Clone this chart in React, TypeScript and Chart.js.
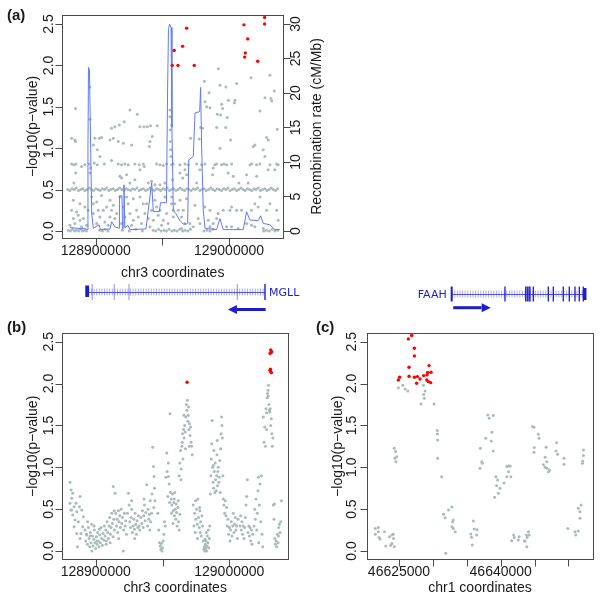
import React, { useEffect, useRef } from "react";
import { Chart, registerables } from "chart.js";

Chart.register(...registerables);

// ======================= DATA =======================
// axis limits (bp / -log10 p / cM per Mb)
const chr3RangeA = [128874725, 129040725];
const chr3RangeB = [128874775, 129044160];
const chr1RangeC = [46620236, 46653658];
const pRangeA = [-0.0845, 2.6087];
const pRangeBC = [-0.099, 2.6];
const recRange = [-1.014, 31.3];

// ticks
const chr3Ticks = [128900000, 128950000, 129000000];
const chr3TickLabels = [128900000, 129000000];
const chr1Ticks = [46625000, 46630000, 46635000, 46640000, 46645000, 46650000];
const chr1TickLabels = [46625000, 46640000];
const pTicks = [0, 0.5, 1, 1.5, 2, 2.5];
const recTicks = [0, 5, 10, 15, 20, 25, 30];

// ---- panel (a): positions in kb ----
const aRed = [
  [128957.4, 2.0], [128961.7, 2.0], [128958.9, 2.18], [128965.2, 2.23], [128968.2, 2.45], [128973.9, 2.0],
  [129011.2, 2.49], [129014.0, 2.32], [129012.2, 2.15], [129011.7, 2.1], [129021.5, 2.05], [129026.7, 2.58], [129026.7, 2.5],
];

const aRecombination = [
  [128880.7, 0.5], [128885.7, 0.4], [128892.7, 0.3], [128894.0, 0.2], [128894.2, 12.0], [128894.6, 23.7], [128895.3, 23.4],
  [128897.0, 2.6], [128898.2, 0.4], [128902.5, 0.9], [128903.6, 0.2], [128910.7, 0.3], [128912.0, 1.35], [128914.5, 0.6],
  [128917.5, 0.4], [128917.8, 5.1], [128919.7, 5.1], [128920.2, 0.3], [128920.8, 0.4], [128921.2, 6.7], [128921.9, 0.5],
  [128924.2, 0.8], [128925.7, 0.2], [128937.7, 0.3], [128942.0, 7.0], [128943.2, 2.8], [128947.8, 2.8], [128948.6, 4.1],
  [128953.1, 4.1], [128953.9, 20.0], [128954.6, 29.2], [128955.4, 30.0], [128956.5, 29.5], [128957.2, 15.0], [128958.2, 3.0],
  [128960.2, 2.5], [128963.2, 1.5], [128965.7, 1.0], [128968.2, 1.0], [128969.0, 1.2], [128969.8, 10.3], [128973.2, 10.8],
  [128974.5, 17.1], [128978.0, 17.3], [128978.7, 20.8], [128979.5, 12.0], [128980.7, 3.0], [128982.0, 0.4], [128990.7, 0.2],
  [128993.2, 1.8], [128995.7, 0.2], [129010.7, 0.2], [129013.2, 2.8], [129015.7, 1.6], [129021.9, 1.5], [129023.7, 2.2],
  [129025.7, 1.1], [129030.7, 0.9], [129034.5, 0.2], [129038.2, 0.2],
];

const aGreyHigh = [
  [128884.9, 1.48], [128881.9, 1.12], [128884.4, 1.1], [128884.9, 1.08], [128895.7, 1.74], [128895.7, 1.35], [128899.4, 1.12],
  [128902.7, 1.12], [128904.4, 1.13], [128898.2, 1.04], [128901.2, 0.98], [128903.2, 0.9], [128911.9, 1.24], [128914.4, 1.26],
  [128910.7, 1.1], [128913.2, 1.12], [128917.7, 1.28], [128921.4, 1.32], [128925.7, 1.46], [128931.2, 1.41], [128916.9, 1.08],
  [128920.7, 1.06], [128926.9, 1.04], [128933.2, 1.26], [128936.2, 1.26], [128938.7, 1.26], [128941.2, 1.27], [128946.2, 1.27],
  [128942.4, 1.14], [128940.7, 1.08], [128940.2, 1.02], [128955.7, 1.46], [128955.7, 1.38], [128956.9, 1.28], [128956.2, 0.98],
  [128956.4, 0.9], [128955.9, 1.22], [128956.1, 1.08], [128992.0, 1.96], [128981.5, 1.81], [129005.7, 1.78], [129016.5, 1.85],
  [129030.7, 1.88], [128993.2, 1.76], [128997.7, 1.74], [128985.0, 1.67], [129034.0, 1.69], [128999.5, 1.58], [129004.5, 1.58],
  [129004.0, 1.55], [129027.0, 1.61], [129031.5, 1.6], [129032.0, 1.57], [128982.0, 1.56], [128983.2, 1.5], [128985.7, 1.49],
  [128994.5, 1.53], [128995.2, 1.48], [128991.2, 1.41], [128993.7, 1.4], [128998.7, 1.37], [129023.2, 1.45], [128978.7, 1.25],
  [128980.2, 1.24], [128990.7, 1.25], [128997.5, 1.25], [129036.2, 1.23], [128971.2, 1.12], [128977.7, 1.11], [129001.2, 1.1],
  [128993.2, 1.0], [129018.2, 1.02], [129019.5, 1.04], [129028.2, 1.13], [129029.5, 1.1], [129025.7, 0.98], [129026.9, 0.9],
];

const aGreyBand08 = [
  [128881.9, 0.81], [128883.7, 0.8], [128885.2, 0.81], [128889.4, 0.78], [128891.9, 0.8], [128895.2, 0.81], [128898.9, 0.82],
  [128901.2, 0.8], [128906.4, 0.81], [128911.9, 0.85], [128916.9, 0.81], [128919.4, 0.8], [128921.9, 0.81], [128924.4, 0.8],
  [128929.4, 0.81], [128932.7, 0.8], [128935.7, 0.81], [128945.7, 0.81], [128948.2, 0.8], [128950.7, 0.79], [128953.2, 0.81],
  [128957.0, 0.8], [128958.2, 0.81], [128963.2, 0.8], [128967.0, 0.81], [128969.4, 0.8], [128975.7, 0.81], [128979.4, 0.8],
  [128982.0, 0.81], [128989.4, 0.8], [128990.7, 0.81], [128994.4, 0.8], [128996.2, 0.81], [128998.2, 0.8], [129002.0, 0.81],
  [129015.7, 0.8], [129017.0, 0.81], [129020.7, 0.8], [129023.2, 0.81], [129030.7, 0.8], [129035.7, 0.81],
];

const aGreyMid = [
  [128884.9, 0.7], [128883.7, 0.58], [128896.2, 0.76], [128895.7, 0.7], [128918.2, 0.66], [128919.4, 0.64], [128923.2, 0.68],
  [128925.7, 0.58], [128929.4, 0.62], [128933.2, 0.74], [128936.4, 0.78], [128939.4, 0.58], [128941.9, 0.6], [128944.4, 0.56],
  [128948.2, 0.56], [128951.9, 0.58], [128966.9, 0.74], [128978.2, 0.74], [128988.2, 0.76], [128963.2, 0.7], [128968.2, 0.68],
  [128965.2, 0.64], [128957.7, 0.62], [128987.7, 0.68], [128999.4, 0.7], [129003.2, 0.66], [129007.4, 0.58], [129014.4, 0.58],
  [129020.7, 0.66], [129029.4, 0.74], [129034.4, 0.74], [129036.9, 0.8], [128975.7, 0.58], [129013.2, 0.68],
];

const aGreyBand05 = [
  [128879.0, 0.5], [128880.6, 0.49], [128882.3, 0.51], [128883.9, 0.5], [128885.4, 0.52], [128887.1, 0.49], [128888.8, 0.5],
  [128890.2, 0.51], [128891.9, 0.49], [128893.5, 0.5], [128895.2, 0.52], [128896.8, 0.5], [128898.4, 0.49], [128900.1, 0.51],
  [128901.7, 0.5], [128903.2, 0.49], [128904.9, 0.51], [128906.6, 0.5], [128908.1, 0.52], [128909.8, 0.49], [128911.4, 0.5],
  [128913.0, 0.51], [128914.7, 0.49], [128916.3, 0.5], [128917.9, 0.52], [128919.6, 0.5], [128921.2, 0.49], [128922.8, 0.51],
  [128924.4, 0.5], [128926.1, 0.49], [128927.6, 0.51], [128929.3, 0.5], [128930.9, 0.52], [128932.6, 0.49], [128934.1, 0.5],
  [128935.8, 0.51], [128937.4, 0.49], [128939.0, 0.5], [128940.7, 0.52], [128942.3, 0.5], [128943.9, 0.49], [128945.5, 0.51],
  [128947.2, 0.5], [128948.8, 0.49], [128950.4, 0.51], [128952.0, 0.5], [128953.7, 0.52], [128955.3, 0.49], [128956.9, 0.5],
  [128958.5, 0.51], [128960.2, 0.49], [128961.8, 0.5], [128963.4, 0.52], [128965.0, 0.5], [128966.7, 0.49], [128968.3, 0.51],
  [128969.9, 0.5], [128971.6, 0.49], [128973.2, 0.51], [128974.8, 0.5], [128976.4, 0.52], [128978.1, 0.49], [128979.7, 0.5],
  [128981.3, 0.51], [128982.9, 0.49], [128984.6, 0.5], [128986.2, 0.52], [128987.8, 0.5], [128989.4, 0.49], [128991.1, 0.51],
  [128992.7, 0.5], [128994.3, 0.49], [128995.9, 0.51], [128997.6, 0.5], [128999.2, 0.52], [129000.8, 0.49], [129002.4, 0.5],
  [129004.1, 0.51], [129005.7, 0.49], [129007.3, 0.5], [129008.9, 0.52], [129010.6, 0.5], [129012.2, 0.49], [129013.8, 0.51],
  [129015.4, 0.5], [129017.1, 0.49], [129018.7, 0.51], [129020.3, 0.5], [129021.9, 0.52], [129023.6, 0.49], [129025.2, 0.5],
  [129026.8, 0.51], [129028.4, 0.49], [129030.1, 0.5], [129031.7, 0.52], [129033.3, 0.5], [129034.9, 0.49], [129036.5, 0.51],
];

const aGreyLow = [
  [128881.9, 0.25], [128885.7, 0.23], [128886.9, 0.19], [128883.2, 0.15], [128888.2, 0.13], [128890.7, 0.15], [128884.4, 0.09],
  [128889.4, 0.05], [128893.2, 0.07], [128880.7, 0.07], [128896.9, 0.41], [128898.2, 0.33], [128900.7, 0.35], [128901.9, 0.25],
  [128898.2, 0.21], [128903.2, 0.17], [128905.7, 0.25], [128906.9, 0.11], [128909.4, 0.07], [128910.7, 0.37], [128913.2, 0.31],
  [128911.9, 0.25], [128915.7, 0.21], [128918.2, 0.41], [128920.7, 0.29], [128921.9, 0.17], [128924.4, 0.33], [128925.7, 0.21],
  [128928.2, 0.39], [128928.2, 0.13], [128930.7, 0.25], [128933.2, 0.41], [128935.7, 0.33], [128936.9, 0.21], [128939.4, 0.15],
  [128941.9, 0.25], [128944.4, 0.37], [128945.7, 0.29], [128948.2, 0.25], [128950.7, 0.13], [128953.2, 0.21], [128956.9, 0.33],
  [128958.2, 0.25], [128883.2, 0.37], [128891.9, 0.29], [128894.4, 0.25], [128904.4, 0.43], [128908.2, 0.29], [128914.4, 0.15],
  [128919.4, 0.09], [128923.2, 0.41], [128926.9, 0.07], [128931.9, 0.17], [128934.4, 0.09], [128938.2, 0.33], [128940.7, 0.05],
  [128943.2, 0.13], [128946.9, 0.19], [128949.4, 0.07], [128951.9, 0.41], [128954.4, 0.09], [128888.2, 0.33], [128900.7, 0.09],
  [128910.7, 0.17], [128956.9, 0.41], [128963.2, 0.37], [128968.2, 0.39], [128961.9, 0.25], [128959.4, 0.33], [128981.9, 0.29],
  [128985.7, 0.25], [128991.9, 0.21], [128995.7, 0.25], [129000.7, 0.25], [129001.9, 0.29], [129005.7, 0.25], [129009.4, 0.25],
  [129021.9, 0.29], [129023.2, 0.41], [129030.7, 0.33], [129035.7, 0.25], [129036.9, 0.13], [128958.2, 0.17], [128964.4, 0.17],
  [128966.9, 0.09], [128964.4, 0.03], [128970.7, 0.09], [128973.2, 0.05], [128976.9, 0.15], [128978.2, 0.09], [128984.4, 0.13],
  [128985.7, 0.05], [128988.2, 0.09], [128990.7, 0.15], [128998.2, 0.05], [129001.9, 0.05], [129006.9, 0.03], [129013.2, 0.09],
  [129016.9, 0.07], [129019.4, 0.05], [129025.7, 0.03], [129016.9, 0.25], [129019.4, 0.33], [129028.2, 0.25], [128965.7, 0.25],
  [128974.4, 0.31],
];

const aGreyZero = [
  [128879.5, 0.01], [128881.0, 0.0], [128882.6, 0.02], [128884.1, 0.0], [128885.6, 0.01], [128887.2, 0.0], [128888.7, 0.02],
  [128890.1, 0.0], [128891.6, 0.01], [128893.0, 0.0], [128903.0, 0.01], [128905.1, 0.0], [128907.0, 0.02], [128909.2, 0.0],
  [128920.0, 0.01], [128925.2, 0.0], [128930.1, 0.02], [128935.0, 0.0], [128943.1, 0.01], [128945.0, 0.0], [128947.1, 0.02],
  [128949.0, 0.0], [128951.2, 0.01], [128953.1, 0.0], [128955.0, 0.02], [128957.2, 0.0], [128959.0, 0.01], [128961.1, 0.0],
  [128963.0, 0.02], [128965.2, 0.0], [128967.0, 0.01], [128969.1, 0.0], [128971.0, 0.02], [128981.2, 0.0], [128983.5, 0.01],
  [128985.8, 0.0], [128987.9, 0.02], [129026.0, 0.0], [129028.1, 0.01], [129030.2, 0.0], [129032.3, 0.02], [129034.4, 0.0],
  [129036.5, 0.01],
];

// ---- panel (b): positions in kb ----
const bRed = [
  [128968.4, 2.015], [129031.0, 2.4], [129031.7, 2.38], [129030.5, 2.36], [129031.2, 2.37],
  [129030.5, 2.16], [129031.0, 2.14], [129031.5, 2.13], [129030.8, 2.17],
];

const bGreyLeft = [
  [128880.8, 0.82], [128881.5, 0.73], [128882.8, 0.69], [128882.0, 0.63], [128880.8, 0.57], [128883.8, 0.53], [128881.3, 0.49],
  [128885.8, 0.47], [128882.8, 0.43], [128888.3, 0.65], [128889.5, 0.49], [128887.0, 0.35], [128883.8, 0.29], [128885.8, 0.21],
  [128888.3, 0.15], [128890.3, 0.29], [128890.8, 0.41], [128892.0, 0.25], [128893.3, 0.19], [128886.3, 0.05], [128885.3, 0.57],
  [128887.8, 0.53], [128884.5, 0.37], [128889.0, 0.21], [128882.0, 0.49],
  [128892.5, 0.12], [128893.0, 0.2], [128893.8, 0.08], [128894.5, 0.28], [128895.0, 0.15], [128895.5, 0.05], [128896.0, 0.22],
  [128896.5, 0.1], [128897.0, 0.32], [128897.5, 0.18], [128898.0, 0.06], [128898.5, 0.14], [128899.0, 0.25], [128899.5, 0.1],
  [128900.0, 0.03], [128900.5, 0.17], [128901.0, 0.08], [128901.5, 0.22], [128902.0, 0.12], [128902.5, 0.05], [128903.0, 0.19],
  [128903.5, 0.1], [128904.0, 0.28], [128904.5, 0.15], [128905.0, 0.07], [128905.5, 0.21], [128906.0, 0.13], [128894.0, 0.35],
  [128898.8, 0.3], [128902.8, 0.26], [128897.2, 0.0], [128900.8, 0.12], [128895.8, 0.18],
  [128906.5, 0.3], [128907.0, 0.18], [128907.5, 0.25], [128908.0, 0.12], [128908.5, 0.35], [128909.0, 0.22], [128909.5, 0.15],
  [128910.0, 0.3], [128910.5, 0.4], [128911.0, 0.2], [128911.5, 0.28], [128912.0, 0.45], [128912.5, 0.33], [128913.0, 0.17],
  [128913.5, 0.38], [128914.0, 0.25], [128907.8, 0.08], [128910.8, 0.1], [128913.8, 0.48],
  [128913.2, 0.77], [128914.5, 0.69], [128915.0, 0.45], [128915.5, 0.3], [128916.0, 0.38], [128916.5, 0.22], [128917.0, 0.48],
  [128917.5, 0.35], [128918.0, 0.42], [128918.5, 0.28], [128919.0, 0.5], [128919.5, 0.33], [128920.0, 0.4], [128920.7, 0.0],
  [128921.0, 0.25], [128921.5, 0.45], [128922.0, 0.3], [128922.5, 0.36], [128923.0, 0.2], [128917.2, 0.15],
  [128923.8, 0.45], [128924.5, 0.69], [128925.0, 0.55], [128925.5, 0.35], [128926.0, 0.28], [128926.5, 0.4], [128927.0, 0.5],
  [128927.5, 0.22], [128928.0, 0.3], [128928.5, 0.38], [128929.0, 0.26], [128929.5, 0.45], [128930.0, 0.32], [128930.5, 0.2],
  [128931.0, 0.36], [128931.5, 0.28], [128932.0, 0.42], [128932.5, 0.3], [128933.0, 0.25], [128926.8, 0.6], [128929.2, 0.15],
  [128933.8, 0.4], [128934.5, 0.33], [128935.0, 0.48], [128935.5, 0.28], [128936.0, 0.42], [128936.5, 0.55], [128937.0, 0.36],
  [128937.5, 0.46], [128938.2, 0.79], [128938.8, 0.3], [128939.2, 0.5], [128939.8, 0.38], [128940.2, 0.44], [128940.8, 0.6],
  [128941.2, 0.35], [128941.8, 0.45], [128942.2, 0.68], [128942.7, 1.24], [128943.2, 1.01], [128943.7, 0.89], [128944.0, 0.75],
  [128944.3, 0.6], [128936.2, 0.62], [128940.5, 0.25], [128943.5, 0.52],
];

const bGreyMiddle = [
  [128947.2, 0.25], [128947.8, 0.1], [128948.3, 0.06], [128948.8, 0.02], [128949.2, 0.09], [128949.6, 0.0], [128950.0, 0.04],
  [128950.5, 0.12], [128951.0, 0.2], [128951.5, 0.35], [128946.5, 0.45], [128952.0, 0.3],
  [128952.5, 0.88], [128953.2, 1.17], [128953.5, 0.95], [128954.4, 1.05], [128954.4, 0.89], [128955.0, 0.8], [128955.6, 1.64],
  [128956.0, 0.7], [128956.5, 0.62], [128957.0, 0.55], [128957.5, 0.68], [128958.0, 0.48], [128958.5, 0.58], [128959.0, 0.42],
  [128959.5, 0.5], [128960.0, 0.38], [128960.5, 0.46], [128961.0, 0.3], [128961.5, 0.52], [128962.0, 0.35], [128962.5, 0.25],
  [128963.0, 0.44], [128956.8, 0.45], [128958.8, 0.62], [128955.3, 0.58], [128960.2, 0.56], [128957.8, 0.33], [128961.8, 0.6],
  [128959.2, 0.7], [128954.0, 0.65],
  [128962.5, 0.9], [128963.0, 1.05], [128963.5, 1.2], [128964.0, 0.98], [128964.5, 1.25], [128965.0, 1.4], [128965.3, 1.1],
  [128965.8, 1.45], [128966.2, 1.35], [128966.6, 1.5], [128967.0, 1.42], [128967.4, 1.6], [128967.8, 1.75], [128968.2, 1.68],
  [128968.6, 1.8], [128969.0, 1.55], [128969.4, 1.72], [128969.8, 1.45], [128970.2, 1.52], [128970.6, 1.38], [128971.0, 1.48],
  [128971.4, 1.3], [128971.8, 1.25], [128972.2, 1.15], [128964.8, 1.3], [128967.2, 1.22], [128969.2, 1.62], [128966.0, 1.62],
  [128970.0, 1.25], [128963.8, 0.85],
  [128973.0, 0.55], [128973.5, 0.3], [128974.0, 0.45], [128974.5, 0.22], [128975.0, 0.38], [128975.5, 0.5], [128976.0, 0.32],
  [128976.5, 0.62], [128977.0, 0.4], [128977.5, 0.28], [128978.0, 0.48], [128978.5, 0.35], [128979.0, 0.18], [128979.5, 0.42],
  [128980.0, 0.3], [128980.5, 0.12], [128976.2, 0.15], [128978.2, 0.22], [128974.8, 0.6], [128977.8, 0.52],
  [128981.0, 0.02], [128981.3, 0.05], [128981.6, 0.0], [128982.0, 0.08], [128982.3, 0.03], [128982.6, 0.12], [128983.0, 0.0],
  [128983.3, 0.06], [128983.6, 0.18], [128984.0, 0.1], [128984.3, 0.25], [128984.6, 0.04], [128985.0, 0.15], [128985.3, 0.3],
  [128982.8, 0.22], [128981.8, 0.14],
];

const bGreyRight = [
  [128985.8, 0.68], [128986.2, 0.9], [128986.5, 1.1], [128986.8, 1.28], [128987.2, 1.56], [128987.5, 1.0], [128987.8, 0.82],
  [128988.2, 0.75], [128988.5, 1.2], [128988.8, 0.95], [128989.2, 0.7], [128989.5, 1.05], [128989.8, 0.85], [128990.2, 0.72],
  [128990.5, 0.9], [128990.8, 1.15], [128991.2, 0.78], [128991.5, 0.95], [128991.8, 1.0], [128992.2, 0.82], [128992.5, 0.88],
  [128992.8, 1.08], [128993.2, 0.7], [128993.5, 1.22], [128993.8, 1.4], [128994.2, 1.6], [128994.5, 1.5], [128994.8, 1.35],
  [128995.2, 0.9], [128995.5, 0.62], [128996.0, 0.55], [128996.5, 0.45], [128988.0, 1.02], [128991.0, 1.32],
  [128997.0, 0.6], [128997.5, 0.42], [128998.0, 0.52], [128998.5, 0.3], [128999.0, 0.38], [128999.5, 0.2], [129000.0, 0.28],
  [129000.5, 0.12], [129001.0, 0.25], [129001.5, 0.35], [129002.0, 0.18], [129002.5, 0.3], [129003.0, 0.45], [129003.5, 0.22],
  [129004.0, 0.32], [129004.5, 0.4], [129005.0, 0.25], [129005.5, 0.3], [129006.0, 0.15], [129006.5, 0.38],
  [129008.0, 0.3], [129008.5, 0.42], [129009.0, 0.25], [129009.5, 0.35], [129010.0, 0.2], [129010.5, 0.3], [129011.0, 0.15],
  [129011.5, 0.28], [129012.0, 0.4], [129012.5, 0.55], [129013.5, 0.85], [129014.0, 0.22], [129014.5, 0.3], [129015.0, 0.18],
  [129015.5, 0.28], [129016.0, 0.12], [129016.5, 0.25], [129017.0, 0.08], [129017.5, 0.2], [129013.0, 0.65],
  [129018.5, 0.3], [129019.0, 0.5], [129019.5, 0.38], [129020.0, 0.62], [129020.5, 0.25], [129021.0, 0.45], [129021.5, 0.72],
  [129022.0, 0.1], [129022.5, 0.55], [129023.0, 0.8], [129023.5, 0.35], [129024.0, 0.9], [129024.5, 0.2], [129025.0, 0.05],
  [129021.8, 0.88],
  [129025.5, 1.6], [129026.0, 1.3], [129026.5, 1.48], [129027.0, 1.25], [129027.5, 1.7], [129028.0, 1.65], [129028.3, 1.83],
  [129028.6, 1.88], [129029.0, 1.92], [129029.3, 1.98], [129029.6, 1.75], [129030.0, 1.68], [129030.3, 1.66], [129030.6, 1.7],
  [129031.0, 1.5], [129031.4, 1.58], [129031.8, 1.4], [129032.2, 1.25], [129032.6, 1.35], [129029.2, 1.85], [129028.0, 1.45],
  [129033.0, 0.55], [129033.5, 0.38], [129034.0, 0.15], [129034.5, 0.08], [129035.0, 0.12], [129035.5, 0.05], [129036.0, 0.2],
  [129036.5, 0.1], [129037.0, 0.28], [129037.5, 0.32], [129038.0, 0.22], [129038.5, 0.35], [129039.0, 0.6], [129036.8, 0.18],
  [129033.8, 0.56],
];

// ---- panel (c): positions in kb (chr1) ----
const cRed = [
  [46626.38, 2.533], [46626.87, 2.573], [46627.27, 2.421], [46627.27, 2.33], [46626.48, 2.194], [46629.43, 2.214],
  [46624.9, 2.043], [46625.1, 2.075], [46626.48, 2.087], [46627.27, 2.075], [46627.71, 2.083], [46628.1, 2.055],
  [46627.6, 2.003], [46628.64, 2.095], [46629.13, 2.103], [46629.23, 2.131], [46629.72, 2.135], [46629.1, 2.043],
  [46629.33, 2.023], [46629.67, 2.011],
];

const cGrey = [
  [46624.9, 1.95], [46625.55, 1.98], [46625.9, 1.935], [46626.3, 1.91], [46628.6, 1.98], [46628.84, 1.91], [46628.64, 1.87],
  [46628.25, 1.756], [46628.74, 1.824], [46630.17, 1.756],
  [46624.3, 1.227], [46624.5, 1.187], [46624.65, 1.127], [46624.4, 1.107], [46624.55, 1.067],
  [46630.66, 1.438], [46630.66, 1.398], [46630.7, 1.326], [46630.7, 1.107], [46631.3, 0.888],
  [46631.55, 0.438], [46631.8, 0.398], [46632.3, 0.49], [46632.8, 0.526], [46633.0, 0.37], [46632.8, 0.29], [46633.0, 0.27],
  [46633.3, 0.23], [46632.9, 0.35], [46631.9, -0.028],
  [46635.97, 0.358], [46636.1, 0.263], [46636.5, 0.255], [46635.6, 0.203], [46636.45, 0.19], [46635.7, 0.163], [46635.8, 0.072],
  [46637.0, 1.227], [46637.2, 1.067], [46637.3, 1.047], [46636.95, 0.988], [46637.8, 1.346], [46638.1, 1.625], [46638.3, 1.585],
  [46638.9, 1.617], [46638.7, 1.418], [46638.6, 1.314], [46638.9, 1.195],
  [46639.3, 0.888], [46639.55, 0.848], [46639.9, 0.749], [46639.4, 0.78], [46639.65, 0.689], [46639.1, 0.641], [46640.5, 0.812],
  [46640.9, 1.008], [46641.15, 1.016], [46641.4, 1.016], [46641.15, 0.948], [46641.5, 0.888], [46640.9, 0.888],
  [46641.6, 0.123], [46642.0, 0.16], [46641.9, 0.19], [46642.7, 0.17], [46642.6, 0.13],
  [46643.5, 0.12], [46643.9, 0.16], [46643.8, 0.19], [46644.2, 0.19], [46644.1, 0.23], [46643.85, 0.05], [46643.6, 0.12],
  [46644.7, 1.486], [46644.9, 1.478], [46645.55, 1.394], [46645.65, 1.346], [46644.95, 1.235], [46644.9, 1.18],
  [46646.3, 1.03], [46646.55, 1.0], [46646.8, 0.988], [46647.05, 0.948], [46647.2, 0.968], [46646.8, 1.067], [46646.55, 1.12],
  [46646.7, 1.239], [46648.26, 1.294], [46648.16, 1.195], [46648.4, 1.155], [46649.34, 1.107], [46649.34, 1.036],
  [46649.9, 0.27], [46650.96, 0.23], [46651.06, 0.19], [46651.45, 0.24], [46651.45, 0.51], [46651.7, 0.47], [46651.85, 0.55],
  [46651.7, 0.39], [46652.2, 1.207], [46652.2, 1.14], [46652.1, 1.075], [46652.05, 1.048],
  [46621.5, 0.27], [46621.95, 0.28], [46621.95, 0.23], [46622.05, 0.16], [46621.5, 0.2], [46622.2, 0.143], [46622.85, 0.23],
  [46623.05, 0.06], [46623.6, 0.17], [46623.95, 0.19], [46624.15, 0.2], [46624.2, 0.15], [46623.95, 0.09], [46624.3, 0.05],
  [46623.8, 0.07],
];

// ---- gene tracks (kb) ----
const mgllSpan = [128892.6, 129027.0];
const mgllUtrBlock = [128892.2, 128895.0];
const mgllExons = [128897.4, 128913.9, 128925.0, 129006.2];
const mgllLastExon = 129027.0;
const mgllArrow = [129027.5, 128999.2]; // tail -> head
const faahSpan = [46632.77, 46652.43];
const faahExons = [
  46632.77, 46640.63, 46643.69, 46643.92, 46644.17, 46644.32, 46644.81, 46647.02, 46647.76, 46649.23,
  46650.12, 46650.96, 46651.59, 46652.18,
];
const faahEndBlock = [46652.18, 46652.5];
const faahArrow = [46633.0, 46638.52]; // tail -> head

// ======================= STYLE =======================
const FONT = "'Liberation Sans', Arial, Helvetica, sans-serif";
const GENE_FONT = "'DejaVu Sans', Verdana, sans-serif";
const GREY = "#aabbb9";
const RED = "#ff0000";
const REC = "rgb(98,122,250)";
const AXIS = "#4a4a4a";
const TEXT = "#1a1a1a";
const GENE = "#1c1ccc";
const GENE_LIGHT = "rgba(105,105,235,0.55)";
const TICK = 7;

const toXY = (rows: number[][]) => rows.map(([kb, y]) => ({ x: kb * 1000, y }));

const pts = (data: any[], color: string, r: number) => ({
  data,
  backgroundColor: color,
  borderWidth: 0,
  pointRadius: r,
  pointHoverRadius: r,
});

function rot(ctx: CanvasRenderingContext2D, text: string, x: number, y: number, baseline: CanvasTextBaseline) {
  ctx.save();
  ctx.translate(x, y);
  ctx.rotate(-Math.PI / 2);
  ctx.textAlign = "center";
  ctx.textBaseline = baseline;
  ctx.fillText(text, 0, 0);
  ctx.restore();
}

function drawRAxes(chart: any, s: any) {
  const { ctx, chartArea: a } = chart;
  const xs = chart.scales.x;
  const ys = chart.scales.y;
  ctx.save();
  ctx.strokeStyle = AXIS;
  ctx.lineWidth = 1;
  const L = Math.round(a.left) + 0.5;
  const R = Math.round(a.right) + 0.5;
  const T = Math.round(a.top) + 0.5;
  const B = Math.round(a.bottom) + 0.5;
  ctx.strokeRect(L, T, R - L, B - T);
  ctx.beginPath();
  s.xTicks.forEach((v: number) => {
    const p = Math.round(xs.getPixelForValue(v)) + 0.5;
    ctx.moveTo(p, B);
    ctx.lineTo(p, B + TICK);
  });
  s.yTicks.forEach((v: number) => {
    const p = Math.round(ys.getPixelForValue(v)) + 0.5;
    ctx.moveTo(L, p);
    ctx.lineTo(L - TICK, p);
  });
  if (s.right) {
    const y2 = chart.scales.y2;
    s.right.ticks.forEach((v: number) => {
      const p = Math.round(y2.getPixelForValue(v)) + 0.5;
      ctx.moveTo(R, p);
      ctx.lineTo(R + TICK, p);
    });
  }
  ctx.stroke();

  ctx.fillStyle = TEXT;
  ctx.font = `14px ${FONT}`;
  ctx.textAlign = "center";
  ctx.textBaseline = "alphabetic";
  s.xLabels.forEach((v: number) => ctx.fillText(String(v), xs.getPixelForValue(v), a.bottom + s.xLabelGap));
  ctx.fillText(s.xTitle, (a.left + a.right) / 2, a.bottom + s.xTitleGap);
  s.yTicks.forEach((v: number) => rot(ctx, v.toFixed(1), a.left - s.yLabelGap, ys.getPixelForValue(v), "alphabetic"));
  rot(ctx, s.yTitle, a.left - s.yTitleGap, (a.top + a.bottom) / 2, "middle");
  if (s.right) {
    const y2 = chart.scales.y2;
    s.right.ticks.forEach((v: number) => rot(ctx, String(v), a.right + s.right.labelGap, y2.getPixelForValue(v), "alphabetic"));
    rot(ctx, s.right.title, a.right + s.right.titleGap, (a.top + a.bottom) / 2, "middle");
  }
  ctx.font = `bold 15px ${FONT}`;
  ctx.textAlign = "left";
  ctx.fillText(s.tag, s.tagX, s.tagY);
  ctx.restore();
}

function arrow(ctx: CanvasRenderingContext2D, x0: number, x1: number, y: number) {
  const dir = Math.sign(x1 - x0);
  const head = 9;
  ctx.save();
  ctx.strokeStyle = GENE;
  ctx.fillStyle = GENE;
  ctx.lineWidth = 3;
  ctx.beginPath();
  ctx.moveTo(x0, y);
  ctx.lineTo(x1 - dir * head, y);
  ctx.stroke();
  ctx.beginPath();
  ctx.moveTo(x1, y);
  ctx.lineTo(x1 - dir * head, y - 4.5);
  ctx.lineTo(x1 - dir * head, y + 4.5);
  ctx.closePath();
  ctx.fill();
  ctx.restore();
}

function intron(ctx: CanvasRenderingContext2D, x0: number, x1: number, y: number) {
  ctx.save();
  ctx.strokeStyle = GENE_LIGHT;
  ctx.lineWidth = 7;
  ctx.setLineDash([1, 1.6]);
  ctx.beginPath();
  ctx.moveTo(x0, y);
  ctx.lineTo(x1, y);
  ctx.stroke();
  ctx.setLineDash([]);
  ctx.strokeStyle = "rgba(60,60,220,0.85)";
  ctx.lineWidth = 1;
  ctx.beginPath();
  ctx.moveTo(x0, y + 0.5);
  ctx.lineTo(x1, y + 0.5);
  ctx.stroke();
  ctx.restore();
}

function vline(ctx: CanvasRenderingContext2D, x: number, y0: number, y1: number, color: string, w: number) {
  ctx.save();
  ctx.strokeStyle = color;
  ctx.lineWidth = w;
  ctx.beginPath();
  ctx.moveTo(x, y0);
  ctx.lineTo(x, y1);
  ctx.stroke();
  ctx.restore();
}

function drawMgll(chart: any) {
  const { ctx } = chart;
  const px = (kb: number) => chart.scales.x.getPixelForValue(kb * 1000);
  const y = 292;
  intron(ctx, px(mgllSpan[0]), px(mgllSpan[1]), y);
  mgllExons.forEach((e) => vline(ctx, px(e), 284, 300, "rgba(95,95,230,0.7)", 1));
  vline(ctx, px(mgllLastExon), 284, 300, GENE, 1.4);
  ctx.save();
  ctx.fillStyle = GENE;
  ctx.fillRect(px(mgllUtrBlock[0]), 285.5, px(mgllUtrBlock[1]) - px(mgllUtrBlock[0]), 11.5);
  ctx.font = `11px ${GENE_FONT}`;
  ctx.textAlign = "left";
  ctx.textBaseline = "middle";
  ctx.fillText("MGLL", px(mgllSpan[1]) + 4, y + 1);
  ctx.restore();
  arrow(ctx, px(mgllArrow[0]), px(mgllArrow[1]), 309.5);
}

function drawFaah(chart: any) {
  const { ctx } = chart;
  const px = (kb: number) => chart.scales.x.getPixelForValue(kb * 1000);
  const y = 24;
  intron(ctx, px(faahSpan[0]), px(faahSpan[1]), y);
  faahExons.forEach((e, i) => vline(ctx, px(e), 16.5, 31.5, GENE, i === 0 ? 2 : 1.3));
  ctx.save();
  ctx.fillStyle = GENE;
  ctx.fillRect(px(faahEndBlock[0]), 18, px(faahEndBlock[1]) - px(faahEndBlock[0]) + 1, 12);
  ctx.font = `11px ${GENE_FONT}`;
  ctx.textAlign = "right";
  ctx.textBaseline = "middle";
  ctx.fillText("FAAH", px(faahSpan[0]) - 5, y + 1);
  ctx.restore();
  arrow(ctx, px(faahArrow[0]), px(faahArrow[1]), 37.7);
}

const baseOptions = (padding: any, scales: any) => ({
  animation: false,
  responsive: false,
  maintainAspectRatio: false,
  events: [],
  layout: { padding },
  plugins: { legend: { display: false }, tooltip: { enabled: false } },
  scales,
});

const lin = (min: number, max: number) => ({ type: "linear", display: false, min, max });

function configA() {
  return {
    type: "scatter",
    data: {
      datasets: [
        pts(toXY(aRed), RED, 1.7),
        {
          type: "line",
          data: toXY(aRecombination),
          yAxisID: "y2",
          showLine: true,
          borderColor: REC,
          borderWidth: 1,
          pointRadius: 0,
          tension: 0,
          fill: false,
        },
        pts(
          toXY([...aGreyHigh, ...aGreyBand08, ...aGreyMid, ...aGreyBand05, ...aGreyLow, ...aGreyZero]),
          GREY,
          1.5
        ),
      ],
    },
    options: baseOptions(
      { left: 62, right: 56.7, top: 15, bottom: 82 },
      {
        x: lin(chr3RangeA[0], chr3RangeA[1]),
        y: lin(pRangeA[0], pRangeA[1]),
        y2: { ...lin(recRange[0], recRange[1]), position: "right" },
      }
    ),
    plugins: [
      {
        id: "rStyleA",
        afterDraw: (c: any) => {
          drawRAxes(c, {
            tag: "(a)", tagX: 7, tagY: 20,
            xTicks: chr3Ticks, xLabels: chr3TickLabels, xTitle: "chr3 coordinates", xLabelGap: 17, xTitleGap: 39,
            yTicks: pTicks, yTitle: "−log10(p−value)", yLabelGap: 8.7, yTitleGap: 29,
            right: { ticks: recTicks, title: "Recombination rate (cM/Mb)", labelGap: 16.7, titleGap: 34.2 },
          });
          drawMgll(c);
        },
      },
    ],
  };
}

function configB() {
  return {
    type: "scatter",
    data: {
      datasets: [
        pts(toXY(bRed), RED, 1.7),
        pts(toXY([...bGreyLeft, ...bGreyMiddle, ...bGreyRight]), GREY, 1.5),
      ],
    },
    options: baseOptions(
      { left: 62, right: 11.7, top: 13.3, bottom: 37.7 },
      { x: lin(chr3RangeB[0], chr3RangeB[1]), y: lin(pRangeBC[0], pRangeBC[1]) }
    ),
    plugins: [
      {
        id: "rStyleB",
        afterDraw: (c: any) =>
          drawRAxes(c, {
            tag: "(b)", tagX: 7, tagY: 12,
            xTicks: chr3Ticks, xLabels: chr3TickLabels, xTitle: "chr3 coordinates", xLabelGap: 17, xTitleGap: 33,
            yTicks: pTicks, yTitle: "−log10(p−value)", yLabelGap: 8.7, yTitleGap: 29,
          }),
      },
    ],
  };
}

function configC() {
  return {
    type: "scatter",
    data: {
      datasets: [pts(toXY(cRed), RED, 1.7), pts(toXY(cGrey), GREY, 1.5)],
    },
    options: baseOptions(
      { left: 66.7, right: 6.7, top: 63.3, bottom: 37.7 },
      { x: lin(chr1RangeC[0], chr1RangeC[1]), y: lin(pRangeBC[0], pRangeBC[1]) }
    ),
    plugins: [
      {
        id: "rStyleC",
        afterDraw: (c: any) => {
          drawRAxes(c, {
            tag: "(c)", tagX: 16, tagY: 62,
            xTicks: chr1Ticks, xLabels: chr1TickLabels, xTitle: "chr1 coordinates", xLabelGap: 17, xTitleGap: 33,
            yTicks: pTicks, yTitle: "−log10(p−value)", yLabelGap: 10.5, yTitleGap: 29,
          });
          drawFaah(c);
        },
      },
    ],
  };
}

function Panel({ make, left, top, width, height }: any) {
  const ref = useRef<HTMLCanvasElement | null>(null);
  useEffect(() => {
    if (!ref.current) return;
    const chart = new Chart(ref.current, make() as any);
    return () => chart.destroy();
  }, []);
  return (
    <canvas
      ref={ref}
      width={width}
      height={height}
      style={{ position: "absolute", left, top, width, height, display: "block" }}
    />
  );
}

export default function App() {
  return (
    <div style={{ position: "absolute", left: 0, top: 0, width: 600, height: 597, background: "#fff", overflow: "hidden" }}>
      <Panel make={configA} left={0} top={0} width={340} height={320} />
      <Panel make={configB} left={0} top={320} width={300} height={277} />
      <Panel make={configC} left={300} top={270} width={300} height={327} />
    </div>
  );
}
